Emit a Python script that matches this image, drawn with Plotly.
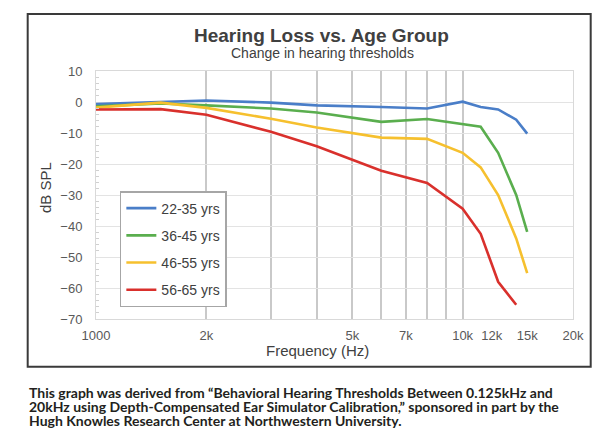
import plotly.graph_objects as go

# frequencies (Hz) and threshold change (dB SPL) per age group
freqs = [1000, 1500, 2000, 3000, 4000, 6000, 8000, 10000, 11200, 12500, 14000, 15000]
age_22_35 = [-0.7, -0.1, 0.5, -0.2, -1.1, -1.6, -2.1, 0.1, -1.6, -2.4, -5.7, -10.2]
age_36_45 = [-1.4, -0.5, -1.1, -2.1, -3.4, -6.4, -5.5, -7.0, -8.0, -16.4, -30.0, -41.9]
age_46_55 = [-1.8, -0.2, -1.9, -5.4, -8.2, -11.5, -11.9, -16.4, -21.1, -30.0, -44.0, -55.2]
age_56_65 = [-2.4, -2.3, -4.1, -9.6, -14.3, -22.2, -26.1, -34.4, -42.5, -58.0, -65.4, None]

names = ["22-35 yrs", "36-45 yrs", "46-55 yrs", "56-65 yrs"]
colors = ["#4a7ec8", "#5aae4e", "#f6c02e", "#d9302c"]

tick_vals = [1000, 2000, 5000, 7000, 10000, 12000, 15000, 20000]
tick_text = ["1000", "2k", "5k", "7k", "10k", "12k", "15k", "20k"]
grid_vals = [2000, 3000, 4000, 5000, 6000, 7000, 8000, 9000, 10000]

caption = [
    "This graph was derived from \u201cBehavioral Hearing Thresholds Between 0.125kHz and",
    "20kHz using Depth-Compensated Ear Simulator Calibration,\u201d sponsored in part by the",
    "Hugh Knowles Research Center at Northwestern University.",
]

font = "Liberation Sans, Arial, sans-serif"

fig = go.Figure()
for i, ys in enumerate([age_22_35, age_36_45, age_46_55, age_56_65]):
    fig.add_trace(go.Scatter(x=freqs, y=ys, mode="lines", name=names[i],
                             legendgroup=names[i],
                             line=dict(color=colors[i], width=2.6)))

# page has an 8px body margin, so the figure is 8px smaller on each side
fig.update_layout(
    width=600, height=432,
    margin=dict(l=88, r=35, t=63, b=121),
    paper_bgcolor="white", plot_bgcolor="white",
    font=dict(family=font, color="#595959", size=13),
    showlegend=True,
    legend=dict(x=0.05, y=0.516, xanchor="left", yanchor="top",
                bgcolor="white", bordercolor="#a6a6a6", borderwidth=1.5,
                font=dict(size=14, color="#404040"), tracegroupgap=6),
)

fig.update_xaxes(type="log", range=[3, 4.30103],
                 tickvals=tick_vals, ticktext=tick_text, showgrid=False,
                 ticks="", ticklabelstandoff=4,
                 showline=True, mirror=True, linecolor="#d9d9d9", linewidth=1,
                 minor=dict(tickvals=grid_vals, showgrid=True,
                            gridcolor="#c9c9c9", gridwidth=1.5, ticks=""),
                 zeroline=False)
fig.update_yaxes(range=[-70, 10], dtick=10, gridcolor="#e3e3e3", gridwidth=1,
                 ticks="", ticklabelstandoff=10,
                 showline=True, mirror=True, linecolor="#d9d9d9", linewidth=1,
                 minor=dict(dtick=2, ticks="inside", ticklen=3,
                            tickcolor="#d0d0d0", showgrid=False),
                 zeroline=False)

# outer frame round the chart
fig.add_shape(type="rect", xref="paper", yref="paper",
              x0=-0.1432, x1=1.0371, y0=-0.1923, y1=1.2298,
              line=dict(color="#3a3a3a", width=2))

fig.add_annotation(text="<b>Hearing Loss vs. Age Group</b>", xref="paper", yref="paper",
                   x=0.4727, y=1.1451, showarrow=False, xanchor="center", yanchor="middle",
                   font=dict(size=19, color="#404040"))
fig.add_annotation(text="Change in hearing thresholds", xref="paper", yref="paper",
                   x=0.4738, y=1.0706, showarrow=False, xanchor="center", yanchor="middle",
                   font=dict(size=14, color="#404040"))
fig.add_annotation(text="dB SPL", xref="paper", yref="paper", textangle=-90,
                   x=-0.1069, y=0.528, showarrow=False, xanchor="center", yanchor="middle",
                   font=dict(size=15, color="#404040"))
fig.add_annotation(text="Frequency (Hz)", xref="paper", yref="paper",
                   x=0.4654, y=-0.129, showarrow=False, xanchor="center", yanchor="middle",
                   font=dict(size=15, color="#404040"))

for line, yp in zip(caption, [-0.2976, -0.3540, -0.4105]):
    fig.add_annotation(text="<b>" + line + "</b>", xref="paper", yref="paper",
                       x=-0.1453, y=yp, xanchor="left", yanchor="middle",
                       showarrow=False,
                       font=dict(family="Lato, Roboto, sans-serif",
                                 size=14, color="#231f20"))

fig.write_html("out.html")
